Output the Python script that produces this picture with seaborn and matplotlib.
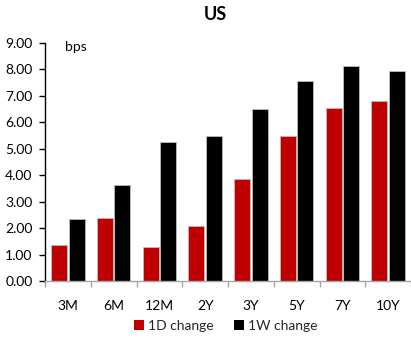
import matplotlib
matplotlib.use("Agg")
import matplotlib.pyplot as plt
from matplotlib.ticker import FixedLocator, FormatStrFormatter
from matplotlib.patches import Patch
import seaborn as sns
import pandas as pd

tenors = ["3M", "6M", "12M", "2Y", "3Y", "5Y", "7Y", "10Y"]
change_1d = [1.35, 2.40, 1.27, 2.08, 3.85, 5.48, 6.56, 6.81]
change_1w = [2.33, 3.64, 5.25, 5.50, 6.50, 7.56, 8.13, 7.94]
series_names = ["1D change", "1W change"]
series_colors = ["#C00000", "#000000"]

df = pd.DataFrame({
    "tenor": tenors * 2,
    "value": change_1d + change_1w,
    "series": [series_names[0]] * len(tenors) + [series_names[1]] * len(tenors),
})

sns.set_theme(style="white")
plt.rcParams["font.family"] = ["Lato", "DejaVu Sans"]

fig = plt.figure(figsize=(4.11, 3.40), dpi=100)
ax = fig.add_axes([45 / 411, 1 - 281 / 340, 366 / 411, 238 / 340])

sns.barplot(data=df, x="tenor", y="value", hue="series", order=tenors,
            hue_order=series_names, palette=series_colors, saturation=1,
            width=0.77, gap=0.09, ax=ax, legend=False, linewidth=0.6,
            edgecolor="#bdbdbd")

ax.set_xlim(-0.5, len(tenors) - 0.5)
ax.set_ylim(0, 9)
ax.yaxis.set_major_locator(FixedLocator([i for i in range(10)]))
ax.yaxis.set_major_formatter(FormatStrFormatter("%.2f"))
ax.set_xlabel("")
ax.set_ylabel("")

for side in ["top", "right"]:
    ax.spines[side].set_visible(False)
ax.spines["left"].set_color("#000000")
ax.spines["left"].set_linewidth(1.0)
ax.spines["bottom"].set_color("#a6a6a6")
ax.spines["bottom"].set_linewidth(1.0)

ax.tick_params(axis="y", which="major", left=True, length=4, width=1,
               color="#000000", labelsize=10, pad=5, labelcolor="#000000")
ax.tick_params(axis="x", which="major", bottom=False, labelsize=10, pad=8,
               labelcolor="#000000")
ax.xaxis.set_minor_locator(FixedLocator([i - 0.5 for i in range(len(tenors) + 1)]))
ax.tick_params(axis="x", which="minor", bottom=True, length=4, width=1,
               color="#a6a6a6")

ax.text(0.055, 0.985, "bps", transform=ax.transAxes, fontsize=10,
        ha="left", va="center", color="#000000")

fig.text(215 / 411, 1 - 15 / 340, "US", ha="center", va="center",
         fontsize=13, fontweight="bold", color="#000000")

handles = [Patch(facecolor=c, edgecolor="none") for c in series_colors]
fig.legend(handles, series_names, loc="center", bbox_to_anchor=(226 / 411, 1 - 326 / 340),
           ncol=2, frameon=False, fontsize=10, handlelength=0.7, handleheight=0.7,
           handletextpad=0.3, columnspacing=1.5)

fig.savefig("out.png", dpi=100)
